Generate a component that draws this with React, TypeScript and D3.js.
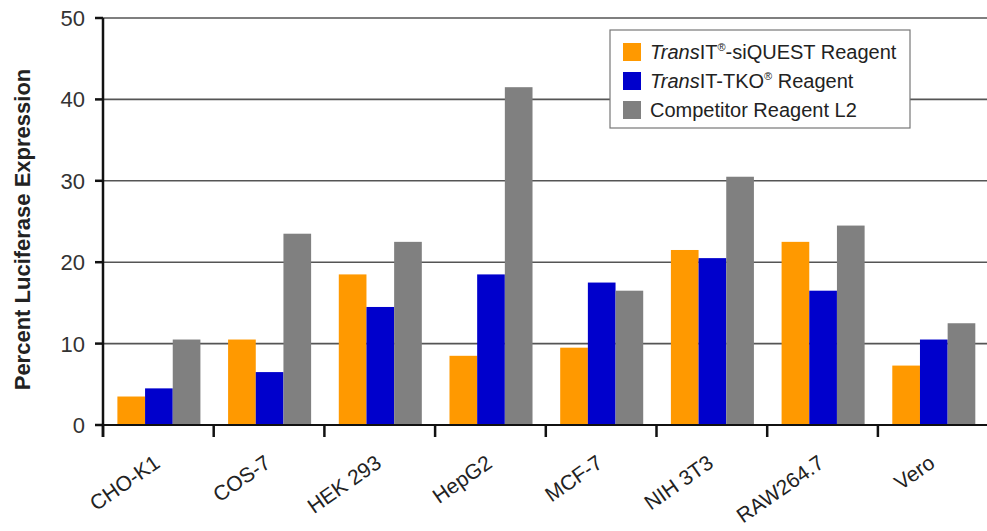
import * as d3 from 'd3'

const categories = ['CHO-K1', 'COS-7', 'HEK 293', 'HepG2', 'MCF-7', 'NIH 3T3', 'RAW264.7', 'Vero']
const siquest = [3.5, 10.5, 18.5, 8.5, 9.5, 21.5, 22.5, 7.3]
const tko = [4.5, 6.5, 14.5, 18.5, 17.5, 20.5, 16.5, 10.5]
const competitor = [10.5, 23.5, 22.5, 41.5, 16.5, 30.5, 24.5, 12.5]
const seriesKeys = ['siquest', 'tko', 'competitor']
const seriesColors = ['#ff9900', '#0000cc', '#808080']
const yTicks = [0, 10, 20, 30, 40, 50]

const W = 987
const H = 531
const FONT = '"Liberation Sans", Arial, Helvetica, sans-serif'

export default function App() {
  const left = 103
  const top = 18
  const base = 425
  const bw = 110.7

  const x = d3.scaleBand<string>().domain(categories).range([left, left + bw * categories.length])
  const inner = d3.scaleBand<string>().domain(seriesKeys).range([0.13 * bw, 0.88 * bw])
  const y = d3.scaleLinear().domain([0, 50]).range([base, top])

  const values = [siquest, tko, competitor]

  return (
    <svg width={W} height={H} style={{ position: 'absolute', left: 0, top: 0, background: '#fff' }}
      fontFamily={FONT}>
      {/* gridlines */}
      {yTicks.filter(t => t > 0).map(t => (
        <line key={t} x1={left} x2={W} y1={y(t)} y2={y(t)} stroke="#555" strokeWidth={1.6} />
      ))}

      {/* bars */}
      {values.map((arr, si) => (
        <g key={si} fill={seriesColors[si]}>
          {arr.map((v, i) => (
            <rect key={i}
              x={(x(categories[i]) ?? 0) + (inner(seriesKeys[si]) ?? 0)}
              y={y(v)}
              width={inner.bandwidth()}
              height={base - y(v)} />
          ))}
        </g>
      ))}

      {/* baseline + x ticks */}
      <line x1={left} x2={W} y1={base} y2={base} stroke="#111" strokeWidth={2} />
      {categories.map(c => (
        <line key={c} x1={x(c)} x2={x(c)} y1={base} y2={base + 12} stroke="#111" strokeWidth={2.5} />
      ))}

      {/* y axis */}
      <line x1={left} x2={left} y1={top} y2={base + 12} stroke="#111" strokeWidth={2.5} />
      {yTicks.map(t => (
        <g key={t}>
          <line x1={left - 8} x2={left} y1={y(t)} y2={y(t)} stroke="#111" strokeWidth={2.5} />
          <text x={left - 18} y={y(t)} dy="0.36em" textAnchor="end" fontSize={22} fill="#333">{t}</text>
        </g>
      ))}
      <text transform={`translate(30,${(top + base) / 2 + 8}) rotate(-90)`} textAnchor="middle"
        fontSize={22} fontWeight="bold" fill="#222">Percent Luciferase Expression</text>

      {/* category labels */}
      {categories.map(c => {
        const cx = (x(c) ?? 0) + bw / 2 + 3
        return (
          <text key={c} transform={`translate(${cx},${base + 41}) rotate(-35)`} textAnchor="end"
            fontSize={21} fill="#222">{c}</text>
        )
      })}

      {/* legend */}
      <g>
        <rect x={610} y={30} width={300} height={98} fill="#fff" stroke="#777" strokeWidth={1.2} />
        {seriesColors.map((col, i) => (
          <rect key={col} x={623} y={43 + i * 29} width={18} height={18} fill={col} />
        ))}
        <text x={650} y={59} fontSize={20} fill="#222">
          <tspan fontStyle="italic">Trans</tspan>IT<tspan fontSize={11} dy={-8}>®</tspan>
          <tspan dy={8}>-siQUEST Reagent</tspan>
        </text>
        <text x={650} y={88} fontSize={20} fill="#222">
          <tspan fontStyle="italic">Trans</tspan>IT-TKO<tspan fontSize={11} dy={-8}>®</tspan>
          <tspan dy={8}> Reagent</tspan>
        </text>
        <text x={650} y={117} fontSize={20} fill="#222">Competitor Reagent L2</text>
      </g>
    </svg>
  )
}
